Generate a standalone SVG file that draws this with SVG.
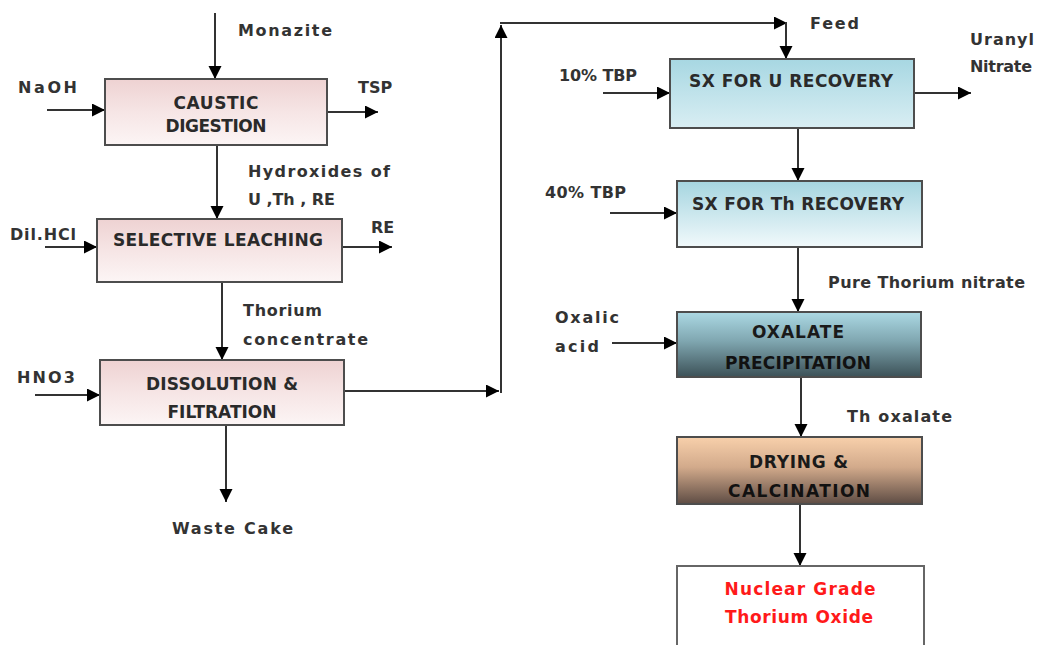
<svg xmlns="http://www.w3.org/2000/svg" width="1038" height="645" viewBox="0 0 1038 645">
  <defs>
    <linearGradient id="gPink" x1="0" y1="0" x2="0" y2="1">
      <stop offset="0" stop-color="#eed2d2"/>
      <stop offset="0.5" stop-color="#f6e5e5"/>
      <stop offset="1" stop-color="#fcf5f5"/>
    </linearGradient>
    <linearGradient id="gBlue1" x1="0" y1="0" x2="0" y2="1">
      <stop offset="0" stop-color="#a7d7e2"/>
      <stop offset="1" stop-color="#d9eef3"/>
    </linearGradient>
    <linearGradient id="gBlue2" x1="0" y1="0" x2="0" y2="1">
      <stop offset="0" stop-color="#a5d5e0"/>
      <stop offset="1" stop-color="#f1f9fb"/>
    </linearGradient>
    <linearGradient id="gSlate" x1="0" y1="0" x2="0" y2="1">
      <stop offset="0" stop-color="#acd9e4"/>
      <stop offset="0.45" stop-color="#7fa6b0"/>
      <stop offset="1" stop-color="#3c5157"/>
    </linearGradient>
    <linearGradient id="gBrown" x1="0" y1="0" x2="0" y2="1">
      <stop offset="0" stop-color="#f8d0ab"/>
      <stop offset="0.45" stop-color="#d2aa8b"/>
      <stop offset="1" stop-color="#5e4c44"/>
    </linearGradient>
    <marker id="arr" markerUnits="userSpaceOnUse" markerWidth="14" markerHeight="14" refX="13" refY="6.5" orient="auto">
      <path d="M0,0 L13,6.5 L0,13 z" fill="#000"/>
    </marker>
    <style>
      .box { stroke: #4d4d4d; stroke-width: 2; }
      .lbl { font-family: "DejaVu Sans", "Liberation Sans", sans-serif; font-weight: bold; font-size: 16px; fill: #333; }
      .btx { font-family: "DejaVu Sans", "Liberation Sans", sans-serif; font-weight: bold; font-size: 17px; fill: #2a2a2a; text-anchor: middle; }
      .red { fill: #ff1a1a; }
      .con { fill: none; stroke: #333; stroke-width: 2; }
    </style>
  </defs>
  <rect width="1038" height="645" fill="#fff"/>

  <g id="connectors">
    <line class="con" x1="215" y1="13" x2="215" y2="79" marker-end="url(#arr)"/>
    <line class="con" x1="47" y1="110" x2="105" y2="110" marker-end="url(#arr)"/>
    <line class="con" x1="327" y1="112" x2="378" y2="112" marker-end="url(#arr)"/>
    <line class="con" x1="217" y1="145" x2="217" y2="219" marker-end="url(#arr)"/>
    <line class="con" x1="45" y1="247" x2="97" y2="247" marker-end="url(#arr)"/>
    <line class="con" x1="342" y1="247" x2="392" y2="247" marker-end="url(#arr)"/>
    <line class="con" x1="222" y1="282" x2="222" y2="360" marker-end="url(#arr)"/>
    <line class="con" x1="35" y1="395" x2="100" y2="395" marker-end="url(#arr)"/>
    <line class="con" x1="226" y1="425" x2="226" y2="502" marker-end="url(#arr)"/>
    <line class="con" x1="344" y1="391" x2="499" y2="391" marker-end="url(#arr)"/>
    <line class="con" x1="501" y1="393" x2="501" y2="25" marker-end="url(#arr)"/>
    <line class="con" x1="500" y1="23" x2="787" y2="23" marker-end="url(#arr)"/>
    <line class="con" x1="786" y1="22" x2="786" y2="59" marker-end="url(#arr)"/>
    <line class="con" x1="603" y1="93" x2="670" y2="93" marker-end="url(#arr)"/>
    <line class="con" x1="914" y1="93" x2="971" y2="93" marker-end="url(#arr)"/>
    <line class="con" x1="798" y1="128" x2="798" y2="181" marker-end="url(#arr)"/>
    <line class="con" x1="610" y1="213" x2="677" y2="213" marker-end="url(#arr)"/>
    <line class="con" x1="798" y1="247" x2="798" y2="312" marker-end="url(#arr)"/>
    <line class="con" x1="612" y1="343" x2="677" y2="343" marker-end="url(#arr)"/>
    <line class="con" x1="801" y1="377" x2="801" y2="437" marker-end="url(#arr)"/>
    <line class="con" x1="800" y1="504" x2="800" y2="566" marker-end="url(#arr)"/>
  </g>

  <g id="labels">
    <text class="lbl" x="238" y="36" textLength="94">Monazite</text>
    <text class="lbl" x="18" y="93" textLength="59">NaOH</text>
    <text class="lbl" x="358" y="93">TSP</text>
    <text class="lbl" x="248" y="177" textLength="142">Hydroxides of</text>
    <text class="lbl" x="248" y="205" textLength="87">U ,Th , RE</text>
    <text class="lbl" x="10" y="240" textLength="66">Dil.HCl</text>
    <text class="lbl" x="371" y="233">RE</text>
    <text class="lbl" x="243" y="316" textLength="79">Thorium</text>
    <text class="lbl" x="243" y="345" textLength="125">concentrate</text>
    <text class="lbl" x="17" y="383" textLength="58">HNO3</text>
    <text class="lbl" x="172" y="534" textLength="121">Waste Cake</text>
    <text class="lbl" x="810" y="29" textLength="49">Feed</text>
    <text class="lbl" x="970" y="45" textLength="64">Uranyl</text>
    <text class="lbl" x="970" y="72" textLength="62">Nitrate</text>
    <text class="lbl" x="559" y="81" textLength="78">10% TBP</text>
    <text class="lbl" x="545" y="198" textLength="81">40% TBP</text>
    <text class="lbl" x="828" y="288" textLength="197">Pure Thorium nitrate</text>
    <text class="lbl" x="555" y="323" textLength="64">Oxalic</text>
    <text class="lbl" x="555" y="352" textLength="44">acid</text>
    <text class="lbl" x="847" y="422" textLength="105">Th oxalate</text>
  </g>

  <g id="caustic-digestion">
    <rect class="box" x="105" y="79" width="222" height="66" fill="url(#gPink)"/>
    <text class="btx" x="216" y="109" textLength="85">CAUSTIC</text>
    <text class="btx" x="216" y="132" textLength="101">DIGESTION</text>
  </g>
  <g id="selective-leaching">
    <rect class="box" x="97" y="219" width="245" height="63" fill="url(#gPink)"/>
    <text class="btx" x="218" y="246" textLength="210">SELECTIVE LEACHING</text>
  </g>
  <g id="dissolution-filtration">
    <rect class="box" x="100" y="360" width="244" height="65" fill="url(#gPink)"/>
    <text class="btx" x="222" y="390" textLength="152">DISSOLUTION &amp;</text>
    <text class="btx" x="222" y="418" textLength="109">FILTRATION</text>
  </g>
  <g id="sx-u">
    <rect class="box" x="670" y="59" width="244" height="69" fill="url(#gBlue1)"/>
    <text class="btx" x="791" y="87" textLength="204">SX FOR U RECOVERY</text>
  </g>
  <g id="sx-th">
    <rect class="box" x="677" y="181" width="245" height="66" fill="url(#gBlue2)"/>
    <text class="btx" x="798" y="210" textLength="212">SX FOR Th RECOVERY</text>
  </g>
  <g id="oxalate-precipitation">
    <rect class="box" x="677" y="312" width="244" height="65" fill="url(#gSlate)"/>
    <text class="btx" x="798" y="338" textLength="92" style="fill:#1a1a1a">OXALATE</text>
    <text class="btx" x="798" y="369" textLength="146" style="fill:#111">PRECIPITATION</text>
  </g>
  <g id="drying-calcination">
    <rect class="box" x="677" y="437" width="245" height="67" fill="url(#gBrown)"/>
    <text class="btx" x="798.5" y="468" textLength="99" style="fill:#1a1a1a">DRYING &amp;</text>
    <text class="btx" x="799" y="497" textLength="142" style="fill:#111">CALCINATION</text>
  </g>
  <g id="thorium-oxide">
    <rect class="box" x="677" y="566" width="247" height="100" fill="#fff" style="stroke:#666"/>
    <text class="btx red" x="800" y="595" textLength="151">Nuclear Grade</text>
    <text class="btx red" x="799" y="623" textLength="148">Thorium Oxide</text>
  </g>
</svg>
